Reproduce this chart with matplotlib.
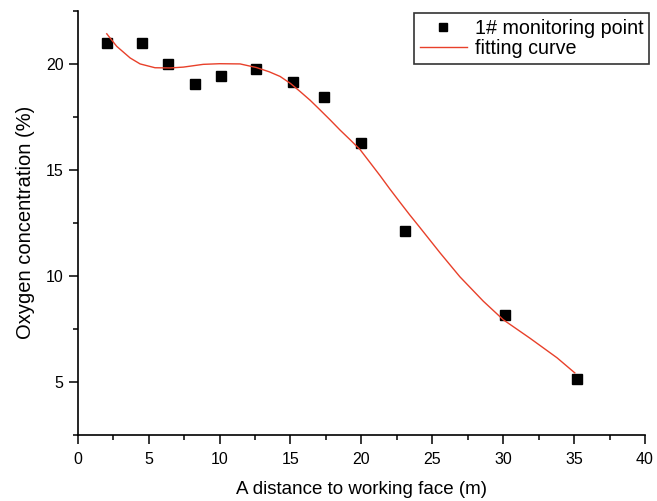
import matplotlib
matplotlib.use("Agg")
import matplotlib.pyplot as plt
from matplotlib.ticker import MultipleLocator

plt.rcParams['font.family'] = ['Liberation Sans', 'DejaVu Sans']

# measured data (monitoring point 1#)
dist = [2.1, 4.55, 6.35, 8.3, 10.1, 12.6, 15.15, 17.35, 19.95, 23.1, 30.15, 35.2]
oxygen = [20.98, 20.98, 19.99, 19.05, 19.43, 19.75, 19.16, 18.45, 16.27, 12.1, 8.14, 5.13]

# fitting curve
fit_x = [2.05, 2.75, 3.7, 4.4, 5.45, 6.5, 7.45, 8.85, 10.0, 11.45, 12.6, 13.5,
         14.27, 15.0, 15.68, 16.4, 17.09, 17.8, 18.5, 19.2, 19.91, 20.6, 21.32,
         22.0, 22.73, 23.4, 24.1, 25.55, 26.95, 28.6, 30.0, 31.9, 33.8, 35.05]
fit_y = [21.41, 20.82, 20.27, 19.99, 19.81, 19.80, 19.84, 19.97, 20.0, 19.99,
         19.82, 19.62, 19.40, 19.07, 18.69, 18.27, 17.82, 17.35, 16.87, 16.42,
         15.95, 15.35, 14.72, 14.10, 13.46, 12.88, 12.30, 11.08, 9.95, 8.80,
         7.93, 7.05, 6.13, 5.42]

xticks = [0, 5, 10, 15, 20, 25, 30, 35, 40]
yticks = [5, 10, 15, 20]

fig = plt.figure(figsize=(6.57, 5.01), dpi=100)
ax = fig.add_axes([77.7 / 657, 1 - 434.8 / 501, (645 - 77.7) / 657, (434.8 - 10.7) / 501])

ax.plot(dist, oxygen, linestyle='none', marker='s', markersize=7, color='black',
        label='1# monitoring point')
ax.plot(fit_x, fit_y, color='#e8402a', linewidth=1.0, label='fitting curve')

ax.set_xlim(0, 40)
ax.set_ylim(2.5, 22.5)
ax.set_xticks(xticks)
ax.set_yticks(yticks)
ax.xaxis.set_minor_locator(MultipleLocator(2.5))
ax.yaxis.set_minor_locator(MultipleLocator(2.5))

for s in ['top', 'right']:
    ax.spines[s].set_visible(False)
for s in ['left', 'bottom']:
    ax.spines[s].set_linewidth(1.2)

ax.tick_params(which='major', direction='out', length=6.2, width=1.1, labelsize=11.5)
ax.tick_params(which='minor', direction='out', length=3.6, width=1.1)
ax.tick_params(axis='x', which='major', pad=6)
ax.tick_params(axis='y', which='major', pad=4)

ax.set_xlabel('A distance to working face (m)', fontsize=13.5, labelpad=10)
ax.set_ylabel('Oxygen concentration (%)', fontsize=14.5, labelpad=8)

leg = ax.legend(loc='upper right', bbox_to_anchor=(649.3 / 657, 1 - 12.7 / 501),
                bbox_transform=fig.transFigure, fontsize=14.2, frameon=True,
                fancybox=False, edgecolor='black', borderpad=0.3,
                labelspacing=0.05, handlelength=2.4, handletextpad=0.4,
                borderaxespad=0, numpoints=1, markerscale=0.85)
leg.get_frame().set_linewidth(1.2)

fig.savefig('out.png', dpi=100)
